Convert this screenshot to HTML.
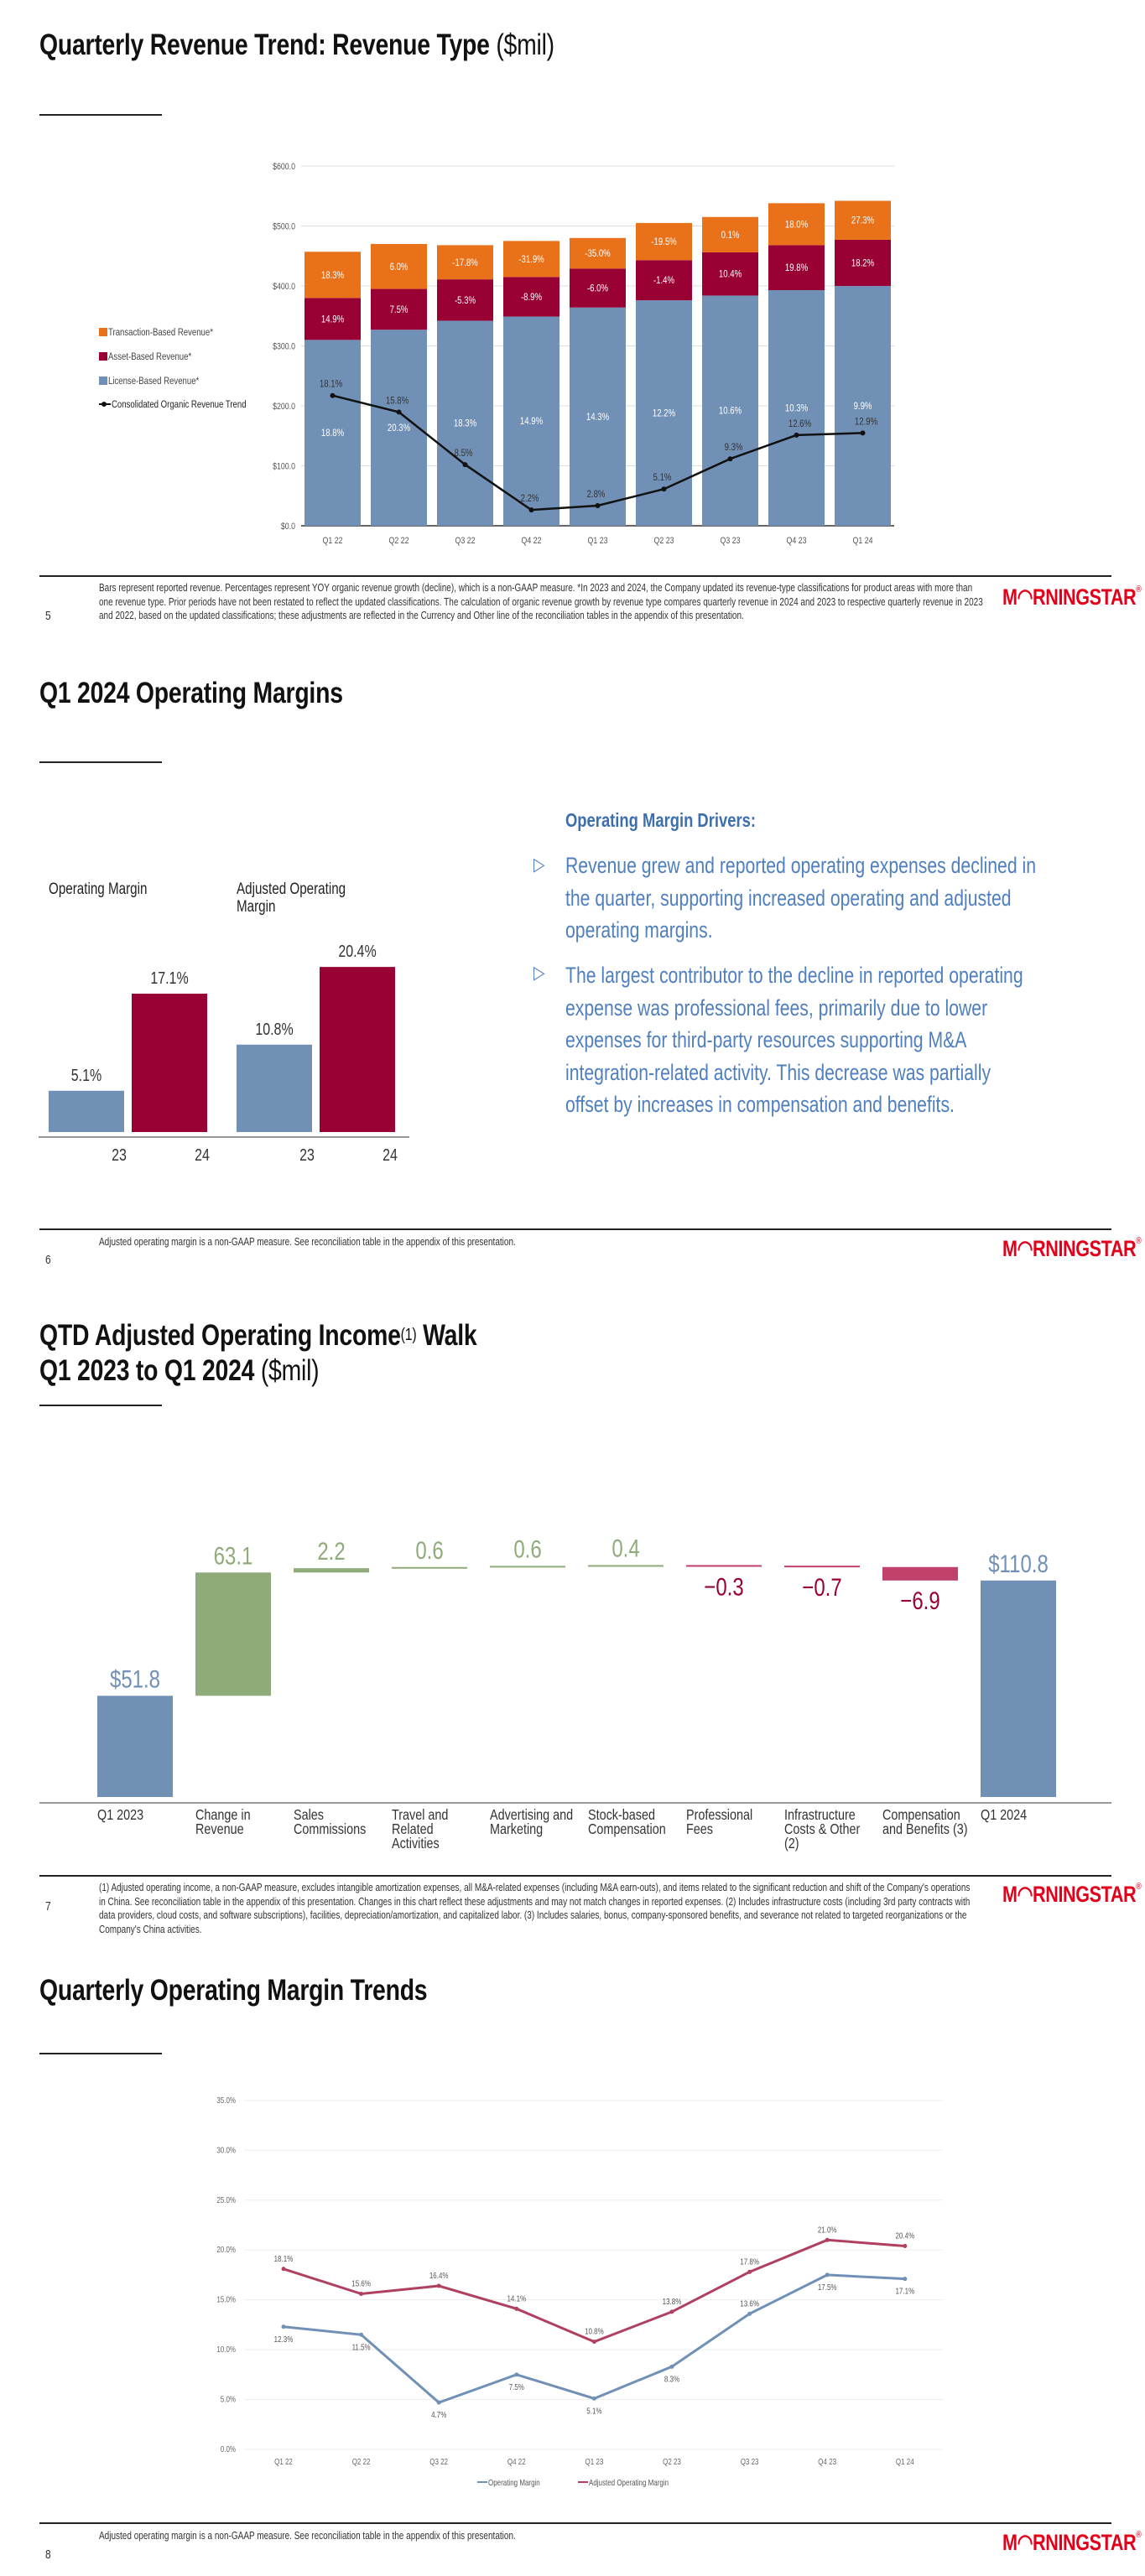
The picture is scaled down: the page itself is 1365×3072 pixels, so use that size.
<!DOCTYPE html>
<html><head><meta charset="utf-8">
<style>
*{margin:0;padding:0;box-sizing:border-box}
body{width:1365px;height:3072px;background:#fff;position:relative;overflow:hidden;font-family:"Liberation Sans Narrow","Liberation Sans",sans-serif;color:#222}
.abs{position:absolute;white-space:nowrap;transform:scaleX(0.8);transform-origin:left top}
.title{font-size:35.5px;font-weight:bold;color:#111;letter-spacing:-0.3px}
.title span{font-weight:normal}
.tline{position:absolute;left:47px;width:146px;height:2px;background:#222}
.fline{position:absolute;left:47px;width:1278px;height:2px;background:#222}
.ftext{font-size:12.5px;color:#333;line-height:16.5px;white-space:normal}
.pnum{font-size:15px;color:#333}
.logo{font-size:27px;font-weight:bold;color:#e2001a;letter-spacing:-0.5px}
.logo sup{font-size:11px;font-weight:normal;vertical-align:top}
.bul{font-size:26.5px;color:#4f7fbf;line-height:38.5px}
svg text{font-family:"Liberation Sans Narrow","Liberation Sans",sans-serif}
</style></head><body>

<!-- Slide 1 -->
<div class="abs title" style="left:47px;top:33px">Quarterly Revenue Trend: Revenue Type <span>($mil)</span></div>
<div class="tline" style="top:136px"></div>
<div class="fline" style="top:686px"></div>
<div class="abs ftext" style="left:118px;top:693px;width:1320px">Bars represent reported revenue. Percentages represent YOY organic revenue growth (decline), which is a non-GAAP measure. *In 2023 and 2024, the Company updated its revenue-type classifications for product areas with more than one revenue type. Prior periods have not been restated to reflect the updated classifications. The calculation of organic revenue growth by revenue type compares quarterly revenue in 2024 and 2023 to respective quarterly revenue in 2023 and 2022, based on the updated classifications; these adjustments are reflected in the Currency and Other line of the reconciliation tables in the appendix of this presentation.</div>
<div class="abs pnum" style="left:54px;top:726px">5</div>
<div class="abs logo" style="left:1195px;top:697px">M◠RNINGSTAR<sup>®</sup></div>

<!-- Slide 2 -->
<div class="abs title" style="left:47px;top:806px">Q1 2024 Operating Margins</div>
<div class="tline" style="top:908px"></div>
<div class="abs" style="left:674px;top:965px;font-size:23px;font-weight:bold;color:#3d6fae">Operating Margin Drivers:</div>
<div class="abs" style="left:636px;top:1018px;font-size:22px;color:#4f7fbf">▷</div>
<div class="abs bul" style="left:674px;top:1013px">Revenue grew and reported operating expenses declined in<br>the quarter, supporting increased operating and adjusted<br>operating margins.</div>
<div class="abs" style="left:636px;top:1147px;font-size:22px;color:#4f7fbf">▷</div>
<div class="abs bul" style="left:674px;top:1144px">The largest contributor to the decline in reported operating<br>expense was professional fees, primarily due to lower<br>expenses for third-party resources supporting M&amp;A<br>integration-related activity. This decrease was partially<br>offset by increases in compensation and benefits.</div>
<div class="abs" style="left:58px;top:1050px;font-size:19px;color:#222">Operating Margin</div>
<div class="abs" style="left:282px;top:1050px;font-size:19px;color:#222;line-height:21px">Adjusted Operating<br>Margin</div>
<div class="fline" style="top:1465px"></div>
<div class="abs ftext" style="left:118px;top:1473px">Adjusted operating margin is a non-GAAP measure. See reconciliation table in the appendix of this presentation.</div>
<div class="abs pnum" style="left:54px;top:1494px">6</div>
<div class="abs logo" style="left:1195px;top:1474px">M◠RNINGSTAR<sup>®</sup></div>

<!-- Slide 3 -->
<div class="abs title" style="left:47px;top:1571px;line-height:42px">QTD Adjusted Operating Income<span style="font-size:20px;vertical-align:top">(1)</span> Walk<br>Q1 2023 to Q1 2024 <span>($mil)</span></div>
<div class="tline" style="top:1675px"></div>
<div class="fline" style="top:2236px"></div>
<div class="abs ftext" style="left:118px;top:2243px;width:1300px">(1) Adjusted operating income, a non-GAAP measure, excludes intangible amortization expenses, all M&amp;A-related expenses (including M&amp;A earn-outs), and items related to the significant reduction and shift of the Company's operations in China. See reconciliation table in the appendix of this presentation. Changes in this chart reflect these adjustments and may not match changes in reported expenses. (2) Includes infrastructure costs (including 3rd party contracts with data providers, cloud costs, and software subscriptions), facilities, depreciation/amortization, and capitalized labor. (3) Includes salaries, bonus, company-sponsored benefits, and severance not related to targeted reorganizations or the Company's China activities.</div>
<div class="abs pnum" style="left:54px;top:2265px">7</div>
<div class="abs logo" style="left:1195px;top:2244px">M◠RNINGSTAR<sup>®</sup></div>

<!-- Slide 4 -->
<div class="abs title" style="left:47px;top:2353px">Quarterly Operating Margin Trends</div>
<div class="tline" style="top:2448px"></div>
<div class="fline" style="top:3008px"></div>
<div class="abs ftext" style="left:118px;top:3016px">Adjusted operating margin is a non-GAAP measure. See reconciliation table in the appendix of this presentation.</div>
<div class="abs pnum" style="left:54px;top:3038px">8</div>
<div class="abs logo" style="left:1195px;top:3017px">M◠RNINGSTAR<sup>®</sup></div>

<svg id="charts" width="1365" height="3072" style="position:absolute;left:0;top:0"></svg>

<script>
// ---- Chart 1 data ----
const quarters = ["Q1 22","Q2 22","Q3 22","Q4 22","Q1 23","Q2 23","Q3 23","Q4 23","Q1 24"];
const licenseRev = [310,327,342,349,364,376,384,393,400];
const assetRev = [70,68,69,66,65,67,72,75,77];
const transRev = [77,75,57,60,51,62,59,70,65];
const licenseGrowth = ["18.8%","20.3%","18.3%","14.9%","14.3%","12.2%","10.6%","10.3%","9.9%"];
const assetGrowth = ["14.9%","7.5%","-5.3%","-8.9%","-6.0%","-1.4%","10.4%","19.8%","18.2%"];
const transGrowth = ["18.3%","6.0%","-17.8%","-31.9%","-35.0%","-19.5%","0.1%","18.0%","27.3%"];
const organicTrend = [18.1,15.8,8.5,2.2,2.8,5.1,9.3,12.6,12.9];
const revTicks = [0,100,200,300,400,500,600];
// ---- Chart 2 data ----
const marginGroups = ["Operating Margin","Adjusted Operating Margin"];
const marginYears = ["23","24"];
const margin23 = [5.1,10.8];
const margin24 = [17.1,20.4];
// ---- Chart 3 data ----
const walkCats = ["Q1 2023","Change in|Revenue","Sales|Commissions","Travel and|Related|Activities","Advertising and|Marketing","Stock-based|Compensation","Professional|Fees","Infrastructure|Costs & Other|(2)","Compensation|and Benefits (3)","Q1 2024"];
const walkVals = [51.8,63.1,2.2,0.6,0.6,0.4,-0.3,-0.7,-6.9,110.8];
const walkLabels = ["$51.8","63.1","2.2","0.6","0.6","0.4","\u22120.3","\u22120.7","\u22126.9","$110.8"];
// ---- Chart 4 data ----
const opMargin = [12.3,11.5,4.7,7.5,5.1,8.3,13.6,17.5,17.1];
const adjMargin = [18.1,15.6,16.4,14.1,10.8,13.8,17.8,21.0,20.4];
const marginTicks = [0,5,10,15,20,25,30,35];

const NS="http://www.w3.org/2000/svg";
const svg=document.getElementById('charts');
function mk(tag,attrs,parent,txt){const e=document.createElementNS(NS,tag);for(const k in attrs)e.setAttribute(k,attrs[k]);if(txt!==undefined)e.textContent=txt;(parent||svg).appendChild(e);return e;}
function grp(name){const g=mk('g',{});return g;}
function T(parent,x,y,anchor,size,fill,txt){return mk('text',{x:0,y:0,transform:'translate('+x+','+y+') scale(0.8,1)','text-anchor':anchor,'font-size':size,fill:fill},parent,txt);}

const BLUE="#7190b5",RED="#990033",ORANGE="#e8711a",GREEN="#8fab79",NEG="#c0416a";

// ===== Chart 1 =====
(function(){
 const g=grp('revenue-chart');
 const y=v=>627-v*0.715, x=i=>363+i*79, bw=67;
 const yp=p=>y(p*12);
 revTicks.forEach(t=>{
  const l=mk('line',{x1:359,x2:1066,y1:y(t),y2:y(t),stroke:t===0?'#333':'#ddd','stroke-width':t===0?1.5:1},g);
  
  const tx=T(g,352,y(t)+4,'end',11,'#555','$'+t.toFixed(1));
  
 });
 quarters.forEach((q,i)=>{
  const a=licenseRev[i],b=a+assetRev[i],c=b+transRev[i];
  let r=mk('rect',{x:x(i),y:y(a),width:bw,height:y(0)-y(a),fill:BLUE},g);
  r=mk('rect',{x:x(i),y:y(b),width:bw,height:y(a)-y(b),fill:RED},g);
  r=mk('rect',{x:x(i),y:y(c),width:bw,height:y(b)-y(c),fill:ORANGE},g);
  let t=T(g,x(i)+bw/2,y(a/2)+4,'middle',12,'#fff',licenseGrowth[i]);
  t=T(g,x(i)+bw/2,y((a+b)/2)+4,'middle',12,'#fff',assetGrowth[i]);
  t=T(g,x(i)+bw/2,y((b+c)/2)+4,'middle',12,'#fff',transGrowth[i]);
  t=T(g,x(i)+bw/2,648,'middle',11,'#555',q);
 });
 const pts=organicTrend.map((p,i)=>(x(i)+bw/2)+','+yp(p)).join(' ');
 const pl=mk('polyline',{points:pts,fill:'none',stroke:'#111','stroke-width':2.5},g);
 organicTrend.forEach((p,i)=>{
  const c=mk('circle',{cx:x(i)+bw/2,cy:yp(p),r:3,fill:'#111'},g);
  const t=T(g,x(i)+bw/2+(i>5?4:-2),yp(p)-10,'middle',12,'#333',p.toFixed(1)+'%');
 });
 const leg=[[ORANGE,'Transaction-Based Revenue*'],[RED,'Asset-Based Revenue*'],[BLUE,'License-Based Revenue*']];
 leg.forEach((l,i)=>{
  const yy=396+i*29;
  let r=mk('rect',{x:118,y:yy-5,width:10,height:10,fill:l[0]},g);
  let t=T(g,129,yy+4,'start',12,'#444',l[1]);
 });
 let ln=mk('line',{x1:118,x2:132,y1:482,y2:482,stroke:'#111','stroke-width':2},g);
 let c=mk('circle',{cx:124,cy:482,r:3,fill:'#111'},g);
 let t=T(g,133,486,'start',12,'#222','Consolidated Organic Revenue Trend');
})();

// ===== Chart 2 =====
(function(){
 const g=grp('margin-bar-chart');
 const base=1350, y=v=>base-v*9.65;
 const gx=[58,282], bw=90;
 marginGroups.forEach((n,i)=>{
  const vals=[margin23[i],margin24[i]];
  vals.forEach((v,j)=>{
   const xx=gx[i]+j*99;
   const r=mk('rect',{x:xx,y:y(v),width:bw,height:base-y(v),fill:j?RED:BLUE},g);
   let t=T(g,xx+bw/2,y(v)-12,'middle',20,'#333',v.toFixed(1)+'%');
   t=T(g,xx+bw-6,1384,'middle',20,'#333',marginYears[j]);
  });
 });
 const l=mk('line',{x1:46,x2:488,y1:1356,y2:1356,stroke:'#999','stroke-width':2},g);
})();

// ===== Chart 3 =====
(function(){
 const g=grp('walk-chart');
 const base=2143, y=v=>base-v*2.33, x=i=>116+i*117, bw=90;
 let run=0;
 walkVals.forEach((v,i)=>{
  const total=(i===0||i===walkVals.length-1);
  let top,bot,col;
  if(total){top=y(v);bot=base;col=BLUE;run=v;}
  else{const a=run,b=run+v;top=y(Math.max(a,b));bot=y(Math.min(a,b));col=v>=0?GREEN:NEG;run=b;}
  const h=Math.max(bot-top,2);
  const r=mk('rect',{x:x(i),y:top,width:bw,height:h,fill:col},g);
  const neg=v<0;
  const t=T(g,x(i)+bw/2,neg?top+h+34:top-10,'middle',30,total?BLUE:(neg?RED:GREEN),walkLabels[i]);
  
  walkCats[i].split('|').forEach((s,k)=>{
   const c=T(g,x(i),2170+k*17,'start',18,'#333',s);
  });
 });
 const l=mk('line',{x1:47,x2:1325,y1:2150,y2:2150,stroke:'#999','stroke-width':2},g);
})();

// ===== Chart 4 =====
(function(){
 const g=grp('margin-trend-chart');
 const y=v=>2921-v*11.89, x=i=>338+i*92.6;
 marginTicks.forEach(t=>{
  const l=mk('line',{x1:291,x2:1124,y1:y(t),y2:y(t),stroke:'#eee','stroke-width':1},g);
  const tx=T(g,281,y(t)+3,'end',10,'#666',t.toFixed(1)+'%');
 });
 quarters.forEach((q,i)=>{const t=T(g,x(i),2939,'middle',10,'#666',q);});
 const series=[[opMargin,BLUE,'operating-margin-line'],[adjMargin,'#b0405f','adjusted-margin-line']];
 series.forEach((s,si)=>{
  const pl=mk('polyline',{points:s[0].map((v,i)=>x(i)+','+y(v)).join(' '),fill:'none',stroke:s[1],'stroke-width':3},g);
  s[0].forEach((v,i)=>{
   const c=mk('circle',{cx:x(i),cy:y(v),r:2.5,fill:s[1]},g);
   const above= si===1 || i===6;
   const t=T(g,x(i),above?y(v)-9:y(v)+18,'middle',10,'#555',v.toFixed(1)+'%');
  });
 });
 const leg=[[BLUE,'Operating Margin',569],['#b0405f','Adjusted Operating Margin',689]];
 leg.forEach(l=>{
  const ln=mk('line',{x1:l[2],x2:l[2]+12,y1:2960,y2:2960,stroke:l[0],'stroke-width':2},g);
  const t=T(g,l[2]+13,2964,'start',10,'#555',l[1]);
 });
})();
</script>
</body></html>
